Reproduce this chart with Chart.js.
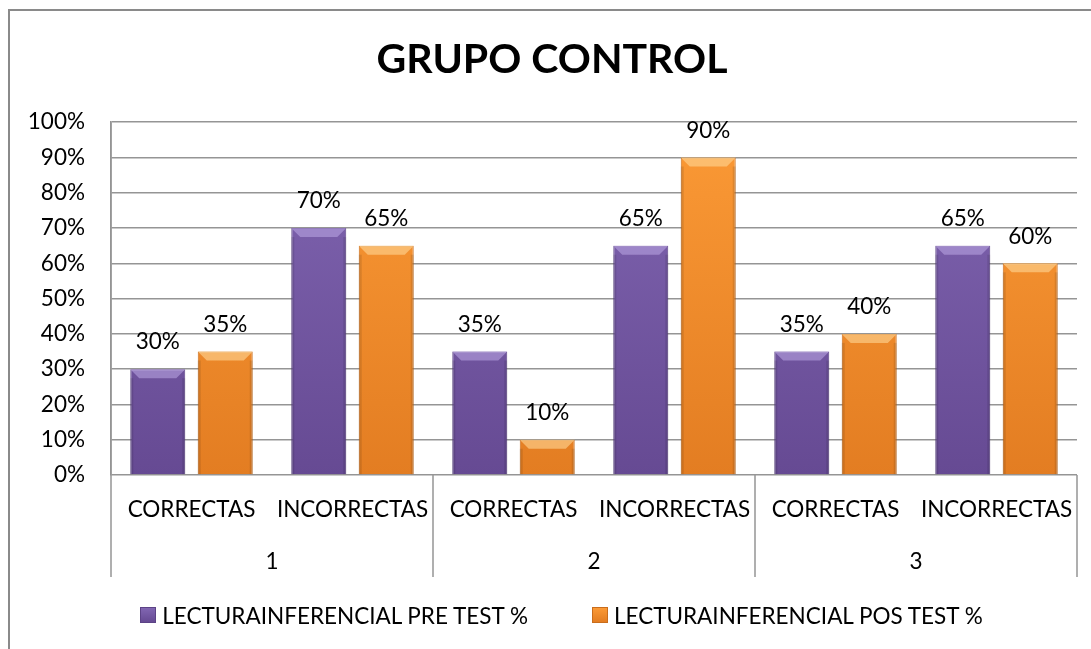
<!DOCTYPE html>
<html>
<head>
<meta charset="utf-8">
<script src="https://cdn.jsdelivr.net/npm/chart.js@4/dist/chart.umd.min.js"></script>
<style>
  html, body { margin: 0; padding: 0; background: #fff; }
  #wrap { width: 1091px; height: 649px; position: relative; overflow: hidden; }
  #legend {
    position: absolute; left: 46px; right: 14px; top: 600px; height: 30px;
    display: flex; justify-content: center; align-items: center; gap: 64px;
    font-family: Lato, "Open Sans", sans-serif; font-size: 22.5px; color: #000;
  }
  #legend .item { display: flex; align-items: center; white-space: nowrap; }
  #legend .box { width: 16px; height: 16px; margin-right: 6px; box-sizing: border-box; }
</style>
</head>
<body>
<div id="wrap"><canvas id="grupoChart"></canvas><div id="legend"></div></div>
<script>
const categories = ['CORRECTAS', 'INCORRECTAS', 'CORRECTAS', 'INCORRECTAS', 'CORRECTAS', 'INCORRECTAS'];
const groups = ['1', '2', '3'];
const preTest = [30, 70, 35, 65, 35, 65];
const posTest = [35, 65, 10, 90, 40, 60];
const yTicks = [0, 10, 20, 30, 40, 50, 60, 70, 80, 90, 100];

const FONT = 'Lato, "Open Sans", sans-serif';
const GRID = '#959595';
const colors = [
    { top: '#8166b2', bottom: '#664a93', border: '#5c4386', bevel: 'rgba(190,170,230,0.55)' },
    { top: '#fb9a36', bottom: '#e37d22', border: '#c96d1c', bevel: 'rgba(255,215,150,0.6)' }
];

function barFill(c) {
    return ctx => {
        const area = ctx.chart.chartArea;
        if (!area) return c.bottom;
        const g = ctx.chart.ctx.createLinearGradient(0, area.top, 0, area.bottom);
        g.addColorStop(0, c.top);
        g.addColorStop(1, c.bottom);
        return g;
    };
}

// outer frame of the chart object
const framePlugin = {
    id: 'frame',
    beforeDraw(chart) {
        const c = chart.ctx;
        c.save();
        c.strokeStyle = '#8a8a8a';
        c.lineWidth = 2;
        c.strokeRect(9, 10, 2000, 2000);
        c.restore();
    }
};

// group separator lines under the axis (1 | 2 | 3)
const groupLines = {
    id: 'groupLines',
    afterDraw(chart) {
        const x = chart.scales.x;
        const area = chart.chartArea;
        const c = chart.ctx;
        c.save();
        c.strokeStyle = GRID;
        c.lineWidth = 1.5;
        for (let k = 0; k <= groups.length; k++) {
            const px = Math.round(x.left + k * x.width / groups.length);
            c.beginPath();
            c.moveTo(px, k === 0 ? area.top : area.bottom);
            c.lineTo(px, area.bottom + 102);
            c.stroke();
        }
        c.restore();
    }
};

// bevel on bar tops + value labels
const barDecor = {
    id: 'barDecor',
    afterDatasetsDraw(chart) {
        const c = chart.ctx;
        chart.data.datasets.forEach((ds, di) => {
            chart.getDatasetMeta(di).data.forEach((bar, i) => {
                const l = bar.x - bar.width / 2, r = bar.x + bar.width / 2;
                const h = Math.min(9, bar.base - bar.y);
                c.save();
                c.fillStyle = colors[di].bevel;
                c.beginPath();
                c.moveTo(l, bar.y);
                c.lineTo(r, bar.y);
                c.lineTo(r - h, bar.y + h);
                c.lineTo(l + h, bar.y + h);
                c.closePath();
                c.fill();
                c.fillStyle = 'rgba(0,0,0,0.10)';
                c.fillRect(l, bar.y + h, 3, bar.base - bar.y - h);
                c.fillRect(r - 3, bar.y + h, 3, bar.base - bar.y - h);
                c.fillStyle = '#000';
                c.font = '22.5px ' + FONT;
                c.textAlign = 'center';
                c.textBaseline = 'middle';
                c.fillText(ds.data[i] + '%', bar.x, bar.y - 27);
                c.restore();
            });
        });
    }
};

const chart = new Chart(document.getElementById('grupoChart'), {
    type: 'bar',
    data: {
        labels: categories,
        datasets: [{
            label: 'LECTURAINFERENCIAL PRE TEST %',
            data: preTest,
            backgroundColor: barFill(colors[0]),
            borderColor: colors[0].border,
            borderWidth: 1,
            categoryPercentage: 0.838,
            barPercentage: 0.815
        }, {
            label: 'LECTURAINFERENCIAL POS TEST %',
            data: posTest,
            backgroundColor: barFill(colors[1]),
            borderColor: colors[1].border,
            borderWidth: 1,
            categoryPercentage: 0.838,
            barPercentage: 0.815
        }]
    },
    options: {
        responsive: true,
        maintainAspectRatio: false,
        animation: false,
        layout: { padding: { left: 27, right: 14, top: 0, bottom: 72 } },
        plugins: {
            title: {
                display: true,
                text: 'GRUPO CONTROL',
                color: '#000',
                font: { family: FONT, size: 41, weight: 'bold' },
                padding: { top: 35, bottom: 38 }
            },
            legend: { display: false },
            tooltip: { enabled: false }
        },
        scales: {
            x: {
                weight: 0,
                grid: { display: false },
                border: { display: false },
                ticks: { color: '#000', font: { family: FONT, size: 22.5 }, padding: 13, maxRotation: 0, autoSkip: false },
                afterFit: s => { s.height = 48; }
            },
            x2: {
                type: 'category',
                position: 'bottom',
                weight: 1,
                labels: groups,
                grid: { display: false },
                border: { display: false },
                ticks: { color: '#000', font: { family: FONT, size: 22.5 }, padding: 17 },
                afterFit: s => { s.height = 54; }
            },
            y: {
                min: 0,
                max: 100,
                afterBuildTicks: s => { s.ticks = yTicks.map(v => ({ value: v })); },
                grid: { color: GRID, lineWidth: 1.5, drawTicks: false },
                border: { color: GRID, width: 1.5 },
                ticks: {
                    color: '#000',
                    font: { family: FONT, size: 22.5 },
                    padding: 26,
                    callback: v => v + '%'
                },
                afterFit: s => { s.width = 84; }
            }
        }
    },
    plugins: [framePlugin, groupLines, barDecor]
});

// legend built from the datasets
const legendEl = document.getElementById('legend');
chart.data.datasets.forEach((ds, i) => {
    const item = document.createElement('div');
    item.className = 'item';
    const box = document.createElement('span');
    box.className = 'box';
    box.style.background = 'linear-gradient(' + colors[i].top + ', ' + colors[i].bottom + ')';
    box.style.border = '1px solid ' + colors[i].border;
    const txt = document.createElement('span');
    txt.textContent = ds.label;
    item.appendChild(box);
    item.appendChild(txt);
    legendEl.appendChild(item);
});
</script>
</body>
</html>
